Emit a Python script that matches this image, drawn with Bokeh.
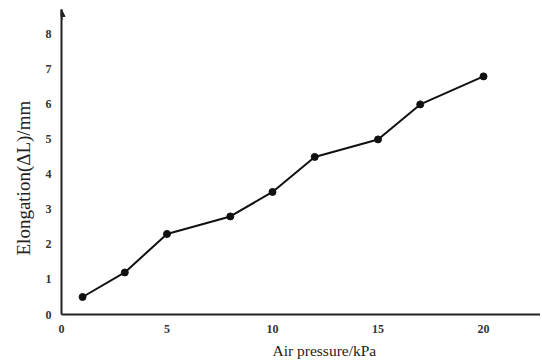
from bokeh.plotting import figure
from bokeh.models import Range1d, Arrow, NormalHead, FixedTicker, Title
from bokeh.embed import file_html
from bokeh.resources import INLINE

pressure = [1, 3, 5, 8, 10, 12, 15, 17, 20]
elongation = [0.5, 1.2, 2.3, 2.8, 3.5, 4.5, 5.0, 6.0, 6.8]
x_ticks = [0, 5, 10, 15, 20]
y_ticks = [0, 1, 2, 3, 4, 5, 6, 7, 8]
x_title = "Air pressure/kPa"
y_title = "Elongation(\u0394L)/mm"

p = figure(width=540, height=362, output_backend="svg", toolbar_location=None,
           x_range=Range1d(0, 22.7), y_range=Range1d(0, 8.71),
           min_border_left=61, min_border_right=0, min_border_top=9, min_border_bottom=46)
p.outline_line_color = None
p.grid.visible = False

p.line(pressure, elongation, line_color="#111111", line_width=2)
p.scatter(pressure, elongation, size=7, fill_color="#111111", line_color="#111111")

for ax in (p.xaxis[0], p.yaxis[0]):
    ax.axis_line_width = 2
    ax.axis_line_color = "#222222"
    ax.major_tick_out = 0
    ax.major_tick_in = 0
    ax.minor_tick_out = 0
    ax.minor_tick_in = 0
    ax.major_label_text_font = "Liberation Serif"
    ax.major_label_text_font_style = "bold"
    ax.major_label_text_font_size = "9pt"
    ax.major_label_text_color = "#333333"

p.xaxis.ticker = FixedTicker(ticks=x_ticks)
p.yaxis.ticker = FixedTicker(ticks=y_ticks)
p.xaxis.major_label_standoff = 10
p.yaxis.major_label_standoff = 10

p.add_layout(Title(text=x_title, align="left", offset=211, standoff=8,
                   text_font="Liberation Serif", text_font_style="normal",
                   text_font_size="15.5px", text_color="#222222"), "below")
p.add_layout(Title(text=y_title, align="left", offset=59, standoff=18,
                   text_font="Liberation Serif", text_font_style="normal",
                   text_font_size="19px", text_color="#222222"), "left")

p.add_layout(Arrow(end=NormalHead(size=7, fill_color="#222222", line_color="#222222"),
                   x_start=0, y_start=8.4, x_end=0, y_end=8.71,
                   line_color="#222222", line_width=2))

open("out.html", "w").write(file_html(p, INLINE))
